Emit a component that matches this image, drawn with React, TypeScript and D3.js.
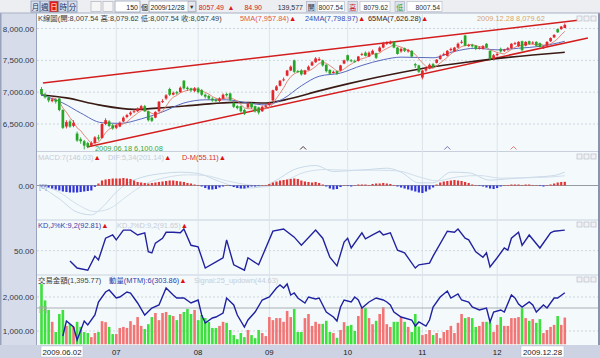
import React from "react";
import * as d3 from "d3";

const FONT = "'Liberation Sans', Arial, 'Noto Sans CJK TC', sans-serif";

const opens = [
  7050, 6960, 6910, 6860, 6880, 6900, 6720, 6460, 6540, 6470, 6350, 6260, 6230, 6200, 6160, 6200, 6290, 6280, 6500, 6540, 6480,
  6440, 6460, 6540, 6610, 6650, 6690, 6700, 6730, 6780, 6700, 6600, 6600, 6700, 6850, 6900, 7050, 6960, 7000, 7000, 7180, 7070, 7060, 7020,
  7060, 7030, 6960, 6940, 6900, 6880, 6860, 6900, 6970, 6980, 6830, 6780, 6780, 6720, 6760, 6830, 6780, 6760, 6700, 6770,
  6800, 6870, 7030, 7100, 7190, 7260, 7340, 7500, 7330, 7340, 7280, 7350, 7420, 7470, 7500, 7500, 7430, 7350, 7300, 7330, 7340, 7450,
  7580, 7500, 7490, 7490, 7590, 7620, 7560, 7600, 7610, 7640, 7700, 7760, 7760, 7790, 7700, 7640, 7690, 7640, 7650, 7440, 7420,
  7230, 7340, 7370, 7440, 7460, 7520, 7590, 7570, 7660, 7640, 7700, 7780, 7890, 7730, 7740, 7730, 7690, 7680, 7760, 7650, 7520,
  7580, 7680, 7650, 7670, 7690, 7760, 7720, 7800, 7730, 7800, 7770, 7790, 7770, 7690, 7730, 7800, 7860, 7990, 7990, 8007.54,
];
const highs = [
  7080, 6990, 6930, 6910, 6900, 6920, 6730, 6560, 6570, 6560, 6380, 6290, 6250, 6220, 6230, 6310, 6330, 6510, 6590, 6560, 6500,
  6500, 6540, 6620, 6660, 6700, 6730, 6760, 6800, 6800, 6710, 6620, 6700, 6860, 6890, 6970, 7070, 7010, 7020, 7090, 7190, 7090, 7070, 7080,
  7080, 7050, 6980, 6960, 6920, 6900, 6920, 6980, 6990, 6990, 6850, 6800, 6790, 6740, 6840, 6840, 6790, 6770, 6790, 6810,
  6850, 7040, 7110, 7190, 7230, 7350, 7420, 7510, 7350, 7360, 7350, 7420, 7490, 7550, 7550, 7510, 7440, 7360, 7340, 7340, 7430, 7510,
  7590, 7520, 7510, 7570, 7620, 7640, 7640, 7670, 7620, 7720, 7790, 7800, 7810, 7800, 7710, 7700, 7700, 7680, 7660, 7460, 7430,
  7350, 7400, 7450, 7460, 7520, 7590, 7620, 7660, 7700, 7710, 7780, 7820, 7900, 7760, 7760, 7740, 7720, 7740, 7770, 7660, 7600,
  7620, 7700, 7680, 7710, 7770, 7790, 7800, 7810, 7800, 7810, 7800, 7800, 7780, 7730, 7800, 7860, 7910, 8000, 8040, 8079.62,
];
const lows = [
  6940, 6900, 6840, 6840, 6820, 6700, 6420, 6430, 6440, 6450, 6220, 6190, 6100.08, 6120, 6140, 6190, 6240, 6270, 6480, 6450, 6410,
  6420, 6450, 6530, 6590, 6630, 6670, 6690, 6720, 6690, 6540, 6530, 6590, 6690, 6830, 6880, 6940, 6950, 6960, 6990, 7040, 7020, 7000, 7000,
  6980, 6940, 6900, 6880, 6850, 6840, 6840, 6890, 6930, 6860, 6750, 6730, 6680, 6640, 6750, 6740, 6680, 6650, 6690, 6760,
  6780, 6860, 7020, 7090, 7170, 7250, 7330, 7300, 7300, 7260, 7270, 7340, 7410, 7460, 7490, 7400, 7310, 7270, 7290, 7270, 7330, 7440,
  7480, 7470, 7460, 7480, 7570, 7560, 7550, 7590, 7520, 7630, 7690, 7740, 7750, 7690, 7590, 7620, 7630, 7620, 7540, 7380, 7300,
  7200, 7320, 7360, 7380, 7450, 7510, 7570, 7560, 7640, 7630, 7690, 7760, 7720, 7710, 7700, 7660, 7670, 7670, 7690, 7500, 7500,
  7560, 7620, 7630, 7650, 7680, 7740, 7710, 7640, 7720, 7740, 7750, 7720, 7700, 7680, 7720, 7790, 7850, 7930, 7980, 8007.54,
];
const closes = [
  6965, 6920, 6870, 6885, 6850, 6720, 6440, 6530, 6460, 6520, 6240, 6230, 6160, 6140, 6200, 6290, 6270, 6500, 6560, 6470, 6430,
  6480, 6520, 6600, 6640, 6680, 6700, 6740, 6780, 6700, 6560, 6550, 6690, 6850, 6860, 6950, 6960, 6990, 6980, 7070, 7060, 7050, 7030, 7060,
  7000, 6960, 6930, 6900, 6870, 6860, 6900, 6960, 6950, 6880, 6770, 6750, 6700, 6660, 6820, 6760, 6700, 6680, 6770, 6790,
  6830, 7030, 7090, 7180, 7200, 7340, 7400, 7320, 7320, 7280, 7340, 7400, 7470, 7530, 7520, 7420, 7330, 7290, 7320, 7290, 7420, 7500,
  7500, 7490, 7480, 7560, 7600, 7570, 7620, 7650, 7540, 7700, 7770, 7770, 7790, 7700, 7600, 7680, 7650, 7660, 7560, 7420, 7320,
  7340, 7380, 7430, 7400, 7510, 7570, 7600, 7650, 7680, 7700, 7760, 7790, 7730, 7740, 7720, 7680, 7700, 7720, 7700, 7520, 7580,
  7600, 7640, 7660, 7690, 7760, 7770, 7790, 7660, 7790, 7760, 7780, 7730, 7710, 7720, 7790, 7850, 7900, 7940, 8030, 8057.49,
];
const volumes = [
  2380, 1900, 1620, 1270, 970, 1500, 1620, 1150, 1200, 1120, 1270, 1120, 970, 940, 820, 940, 970, 1290, 1260, 1120, 910,
  910, 1090, 1120, 1090, 1290, 1180, 1410, 1150, 1060, 1200, 1410, 1530, 1320, 1530, 1560, 1470, 1440, 1320, 1500, 1560, 1650, 1500, 1620,
  1320, 1470, 1380, 1270, 1090, 1090, 1150, 1270, 1240, 1030, 880, 760, 940, 820, 1030, 880, 790, 1030, 940, 850,
  1410, 1320, 1380, 1380, 1270, 1590, 1410, 1650, 970, 970, 1380, 1500, 1150, 1270, 1210, 1210, 1300, 970, 940, 800, 1030, 1260,
  1150, 1180, 1000, 1440, 1680, 1680, 1380, 1200, 1300, 1500, 1700, 1200, 1120, 1270, 1270, 1410, 1270, 1120, 970, 1500, 1130,
  880, 910, 1030, 880, 940, 790, 970, 1030, 1150, 940, 1240, 1500, 1380, 1410, 1380, 1120, 1150, 1270, 1270, 1260, 970,
  1180, 1410, 1150, 1150, 1380, 1380, 1410, 1680, 1380, 1300, 1350, 1240, 1350, 940, 1030, 1120, 1180, 1440, 1180, 1395.77,
];
const macdHist = [
  -15, -15, -30, -45, -60, -75, -90, -98, -105, -105, -105, -98, -90, -83, -75, -20, 30, 75, 90, 98, 105,
  105, 105, 113, 105, 98, 75, 53, 45, 38, 30, 38, 45, 53, 60, 68, 75, 75, 68, 60, 53, 38, 30, 15,
  8, -15, -38, -60, -60, -53, -30, -15, 0, -8, -23, -38, -45, -45, -30, -15, -15, -8, 0, 8,
  23, 45, 60, 75, 83, 90, 98, 105, 98, 75, 60, 53, 45, 53, 38, 15, -15, -45, -60, -53, -23, 0,
  -8, -15, 0, 15, 15, 15, 8, 23, 30, 30, 38, 30, 23, 8, -15, -30, -45, -60, -75, -90, -105,
  -113, -90, -60, -30, 15, 45, 60, 68, 75, 83, 75, 68, 53, 38, 15, 0, -8, -15, -30, -45, -53,
  -38, -15, 0, 8, 15, 15, 15, 8, 15, 15, 8, 0, -8, -15, 0, 15, 30, 45, 53, 55.11,
];
const difPts: [number, number][] = [
  [0, -20], [5, -200], [10, -400], [14, -440], [17, -330], [21, -100], [24, 30], [28, 120], [34, 180], [39, 200],
  [44, 180], [50, 60], [57, -40], [62, -20], [66, 80], [71, 240], [77, 300], [82, 210], [86, 220], [92, 240],
  [97, 260], [101, 200], [106, 40], [110, 40], [115, 200], [120, 190], [126, 80], [131, 100], [138, 125], [144, 150], [147, 201.14],
];
const macdPts: [number, number][] = [
  [0, 0], [5, -100], [10, -280], [15, -390], [19, -350], [24, -160], [29, 20], [35, 120], [41, 160], [46, 150],
  [52, 70], [58, 10], [63, -20], [68, 60], [74, 200], [80, 240], [86, 230], [93, 230], [100, 220], [106, 130],
  [111, 70], [117, 130], [123, 150], [129, 110], [136, 115], [142, 125], [147, 146.03],
];
const kdPts: [number, number][] = [
  [8, 31], [10, 18], [13, 14], [15, 40], [16, 33], [18, 73], [20, 79], [21, 70], [23, 88], [25, 88], [27, 79], [29, 83],
  [30, 48], [31, 46], [32, 64], [34, 73], [35, 84], [37, 84], [39, 83], [40, 90], [42, 60], [44, 57], [46, 18], [50, 33],
  [51, 37], [52, 70], [54, 24], [57, 14], [58, 37], [61, 24], [65, 86], [68, 90], [71, 75], [73, 60], [77, 88], [79, 73],
  [81, 38], [83, 22], [85, 66], [86, 73], [87, 55], [90, 83], [91, 72], [93, 79], [95, 86], [96, 79], [98, 83], [100, 51],
  [102, 46], [105, 18], [106, 24], [109, 27], [110, 40], [114, 86], [116, 84], [117, 90], [119, 73], [120, 70], [122, 48],
  [124, 38], [125, 46], [126, 20], [128, 37], [130, 55], [131, 51], [132, 73], [134, 84], [135, 60], [137, 79], [140, 55],
  [143, 83], [144, 86], [147, 88],
];
const mtmPts: [number, number][] = [
  [6, -560], [7, -260], [9, -380], [10, -640], [12, -260], [13, -340], [15, -140], [16, 120], [18, 320], [19, 360],
  [21, 200], [22, 220], [24, 320], [25, 300], [27, 100], [29, -140], [31, 0], [33, 60], [35, 400], [37, 260], [38, 200],
  [40, 200], [42, 100], [44, 160], [45, -140], [46, -300], [48, -200], [49, -180], [51, -100], [52, 200], [54, 60],
  [55, -140], [57, -380], [58, -240], [60, -80], [62, 160], [64, 220], [66, 400], [67, 460], [68, 400], [69, 480],
  [70, 260], [71, 300], [72, 200], [74, 100], [75, 220], [77, 180], [78, 200], [80, -80], [82, -180], [83, -260],
  [84, 20], [85, 160], [87, 120], [88, 220], [89, 160], [90, 0], [92, 120], [94, 200], [96, 160], [97, 120], [98, 60],
  [99, -80], [101, -180], [104, -240], [105, -360], [106, -280], [108, -360], [109, -240], [110, 20], [112, 220],
  [114, 340], [115, 200], [117, 280], [118, 160], [120, 120], [121, 20], [123, -40], [125, 0], [126, -280], [127, -80],
  [129, -40], [130, -80], [132, 260], [133, 200], [134, 80], [135, 20], [137, 120], [138, 60], [139, -80], [141, 60],
  [142, 0], [144, 200], [145, 200], [147, 303.86],
];
const ma24Pts: [number, number][] = [
  [0, 6956], [6, 6830], [11, 6673], [17, 6520], [22, 6510], [28, 6580], [34, 6690], [40, 6830], [46, 6880], [52, 6880],
  [58, 6830], [63, 6800], [68, 6900], [73, 7100], [78, 7250], [84, 7300], [90, 7420], [96, 7510], [101, 7550], [106, 7545],
  [110, 7540], [116, 7640], [122, 7690], [128, 7665], [134, 7690], [140, 7720], [147, 7798.97],
];
const ma65Pts: [number, number][] = [
  [0, 6956], [7, 6910], [16, 6800], [26, 6730], [35, 6760], [44, 6800], [54, 6840], [63, 6830], [70, 6900], [78, 7020],
  [86, 7130], [94, 7230], [101, 7310], [110, 7400], [120, 7475], [129, 7535], [138, 7585], [147, 7626.28],
];
const upperChannel: [number, number][] = [[0.4, 7144], [151.3, 8133]];
const lowerChannel: [number, number][] = [[12.8, 6139], [153.5, 7851]];
const priceTicks = [8000, 7500, 7000, 6500];
const volTicks = [2000, 1000];
const kdTicks = [50];
const monthIdx = [21, 44, 64, 86, 107, 128];
const monthLabels = ["07", "08", "09", "10", "11", "12"];
const eventIdx = [73.5, 114, 132.6];
const eventColors = ["#402020", "#6068b8", "#e07070"];
const periods = ["月", "週", "日", "時", "分"];

const PL = 37;
const PR = 598;
const fmt2 = d3.format(",.2f");

export default function App() {
  const x = d3.scaleLinear().domain([0, 147]).range([41.5, 564.8]);
  const yP = d3.scaleLinear().domain([6500, 8000]).range([124, 28.5]);
  const yM = d3.scaleLinear().domain([0, 300]).range([185.5, 165.5]);
  const yK = d3.scaleLinear().domain([0, 100]).range([277.8, 223.6]);
  const yV = d3.scaleLinear().domain([1000, 2000]).range([331, 297]);
  const yT = d3.scaleLinear().domain([0, 300]).range([308, 293]);

  const ma5: [number, number][] = closes.map((_, i) => {
    const s = closes.slice(Math.max(0, i - 4), i + 1);
    return [i, d3.mean(s) as number];
  });

  const lineP = d3.line<[number, number]>().x((d) => x(d[0])).y((d) => yP(d[1]));
  const lineSmooth = d3.line<[number, number]>().x((d) => x(d[0])).y((d) => yP(d[1])).curve(d3.curveMonotoneX);
  const lineM = d3.line<[number, number]>().x((d) => x(d[0])).y((d) => yM(d[1])).curve(d3.curveMonotoneX);
  const lineK = d3.line<[number, number]>().x((d) => x(d[0])).y((d) => yK(d[1]));
  const lineT = d3.line<[number, number]>().x((d) => x(d[0])).y((d) => yT(d[1]));

  const up = (i: number) => closes[i] >= opens[i];
  const RED = "#e4262c";
  const GREEN = "#27a527";
  const faint = "#c5ccd8";
  const TRI = "#e01010";
  const LF = 7.4;
  const icons = (y: number) =>
    [577, 584, 591].map((ix) => (
      <rect key={ix + "-" + y} x={ix} y={y} width={5} height={5} fill="#f2f2f4" stroke="#b8bcc8" strokeWidth={0.7} />
    ));

  return (
    <svg width={600} height={358} style={{ position: "absolute", left: 0, top: 0, display: "block" }} fontFamily={FONT}>
      <defs>
        <clipPath id="cp"><rect x={PL} y={13.5} width={PR - PL} height={138} /></clipPath>
        <clipPath id="cm"><rect x={PL} y={152} width={PR - PL} height={67.5} /></clipPath>
        <clipPath id="ck"><rect x={PL} y={220.5} width={PR - PL} height={54} /></clipPath>
        <clipPath id="cv"><rect x={PL} y={275.5} width={PR - PL} height={69} /></clipPath>
      </defs>
      {/* backgrounds */}
      <rect x={0} y={0} width={600} height={358} fill="#f4fafc" />
      <rect x={0} y={13} width={PL} height={332} fill="#d7dcea" />
      <rect x={0} y={13} width={1.5} height={345} fill="#9aa2bc" />
      <line x1={PL - 0.5} x2={PL - 0.5} y1={13} y2={345} stroke="#9aa3bd" />
      <rect x={PR} y={13} width={2} height={345} fill="#8a93ad" />
      <rect x={0} y={345} width={600} height={13} fill="#cdd3e3" />

      {/* toolbar */}
      <rect x={0} y={0} width={600} height={13} fill="#eceef2" />
      <line x1={0} x2={600} y1={13} y2={13} stroke="#a9b1c4" />
      {periods.map((p, k) => (
        <g key={p}>
          <rect x={31 + k * 9.3} y={1} width={8.8} height={11} fill={p === "日" ? "#e01c1c" : "#d8e0ee"} stroke="#7d8aa8" strokeWidth={0.7} />
          <text x={35.4 + k * 9.3} y={9.8} fontSize={7.5} textAnchor="middle" fill={p === "日" ? "#ffffff" : "#1c2c60"}>{p}</text>
        </g>
      ))}
      <rect x={91} y={1.5} width={10} height={10} fill="#f6f6f6" stroke="#b0b4be" strokeWidth={0.7} />
      <rect x={103} y={1.5} width={10} height={10} fill="#f6f6f6" stroke="#b0b4be" strokeWidth={0.7} />
      <rect x={115} y={1} width={25} height={11} fill="#ffffff" stroke="#8a96ae" strokeWidth={0.7} />
      <text x={138} y={9.6} fontSize={7} textAnchor="end" fill="#202020">150</text>
      <text x={141} y={9.8} fontSize={7} fill="#202020">個</text>
      <rect x={149} y={1} width={47} height={11} fill="#ffffff" stroke="#8a96ae" strokeWidth={0.7} />
      <text x={150.5} y={9.6} fontSize={6.8} fill="#202020">2009/12/28</text>
      <rect x={188} y={1.5} width={7.5} height={10} fill="#e6e8ee" stroke="#a0a6b6" strokeWidth={0.6} />
      <text x={191.8} y={9.3} fontSize={5.5} textAnchor="middle" fill="#303030">▼</text>
      <text x={224} y={9.6} fontSize={7} textAnchor="end" fill="#d42020">8057.49</text>
      <text x={231} y={9.6} fontSize={7} textAnchor="middle" fill="#d42020">▲</text>
      <text x={262} y={9.6} fontSize={7} textAnchor="end" fill="#d42020">84.90</text>
      <text x={303} y={9.6} fontSize={7} textAnchor="end" fill="#303030">139,577</text>
      <rect x={306.5} y={1.5} width={9.5} height={10} fill="#dde2ec" stroke="#a0a8bc" strokeWidth={0.6} />
      <text x={311.2} y={9.6} fontSize={7} textAnchor="middle" fill="#303030">開</text>
      <rect x={317.5} y={1.5} width={27} height={10} fill="#ffffff" stroke="#b0b6c4" strokeWidth={0.6} />
      <text x={343} y={9.6} fontSize={6.8} textAnchor="end" fill="#303030">8007.54</text>
      <rect x={348} y={1.5} width={9.5} height={10} fill="#dde2ec" stroke="#a0a8bc" strokeWidth={0.6} />
      <text x={352.7} y={9.6} fontSize={7} textAnchor="middle" fill="#d42020">高</text>
      <rect x={360} y={1.5} width={30} height={10} fill="#ffffff" stroke="#b0b6c4" strokeWidth={0.6} />
      <text x={388} y={9.6} fontSize={6.8} textAnchor="end" fill="#303030">8079.62</text>
      <rect x={395} y={1.5} width={9.5} height={10} fill="#dde2ec" stroke="#a0a8bc" strokeWidth={0.6} />
      <text x={399.7} y={9.6} fontSize={7} textAnchor="middle" fill="#22a022">低</text>
      <rect x={407} y={1.5} width={35} height={10} fill="#ffffff" stroke="#b0b6c4" strokeWidth={0.6} />
      <text x={440} y={9.6} fontSize={6.8} textAnchor="end" fill="#303030">8007.54</text>

      {/* panel separators */}
      {[151.5, 220, 275].map((y) => (
        <line key={y} x1={PL} x2={PR} y1={y} y2={y} stroke="#c9d0dc" />
      ))}
      {/* month gridlines */}
      {monthIdx.map((m) => (
        <line key={m} x1={x(m)} x2={x(m)} y1={13.5} y2={345} stroke="#dce3ea" />
      ))}
      {/* horizontal dashed grids */}
      {priceTicks.map((t) => (
        <line key={"p" + t} x1={PL} x2={PR} y1={yP(t)} y2={yP(t)} stroke="#cdd5de" strokeDasharray="2,2" />
      ))}
      {kdTicks.map((t) => (
        <line key={"k" + t} x1={PL} x2={PR} y1={yK(t)} y2={yK(t)} stroke="#cdd5de" strokeDasharray="2,2" />
      ))}
      {volTicks.map((t) => (
        <line key={"v" + t} x1={PL} x2={PR} y1={yV(t)} y2={yV(t)} stroke="#cdd5de" strokeDasharray="2,2" />
      ))}

      {/* axis labels */}
      {priceTicks.map((t) => (
        <text key={"pl" + t} x={34} y={yP(t) + 3} fontSize={8} textAnchor="end" fill="#303848">{fmt2(t)}</text>
      ))}
      <text x={34} y={yM(0) + 3} fontSize={8} textAnchor="end" fill="#303848">0.00</text>
      {kdTicks.map((t) => (
        <text key={"kl" + t} x={34} y={yK(t) + 3} fontSize={8} textAnchor="end" fill="#303848">{fmt2(t)}</text>
      ))}
      {volTicks.map((t) => (
        <text key={"vl" + t} x={34} y={yV(t) + 3} fontSize={8} textAnchor="end" fill="#303848">{fmt2(t)}</text>
      ))}

      {/* price panel */}
      <g clipPath="url(#cp)">
        {[upperChannel, lowerChannel].map((c, k) => (
          <path key={k} d={lineP(c) as string} stroke="#d41e1e" strokeWidth={1.5} fill="none" />
        ))}
        <path d={lineSmooth(ma65Pts) as string} stroke="#3a1a14" strokeWidth={1.6} fill="none" />
        <path d={lineSmooth(ma24Pts) as string} stroke="#5a68bc" strokeWidth={1} fill="none" />
        <path d={lineP(ma5.slice(3)) as string} stroke="#e47a6a" strokeWidth={0.9} fill="none" />
        {closes.map((c, i) => {
          const o = opens[i];
          const col = up(i) ? RED : GREEN;
          const top = yP(Math.max(o, c));
          const h = Math.max(0.9, Math.abs(yP(o) - yP(c)));
          return (
            <g key={i}>
              <line x1={x(i)} x2={x(i)} y1={yP(highs[i])} y2={yP(lows[i])} stroke={col} strokeWidth={0.9} />
              <rect x={x(i) - 1.35} y={top} width={2.7} height={h} fill={col} />
            </g>
          );
        })}
        {eventIdx.map((e, k) => (
          <path key={k} d={`M${x(e) - 3},${149.5}L${x(e)},${146.5}L${x(e) + 3},${149.5}`} stroke={eventColors[k]} fill="none" strokeWidth={0.9} />
        ))}
      </g>
      <text x={95} y={151} fontSize={LF} fill="#3aa83a">2009.06.18  6,100.08</text>
      <text x={38} y={21} fontSize={LF} fill="#3c3c3c">K線圖(開:8,007.54 高:8,079.62 低:8,007.54 收:8,057.49)</text>
      <text x={240} y={21} fontSize={LF}>
        <tspan fill="#e05848">5MA(7,957.84)</tspan>
        <tspan fill={TRI}>▲</tspan>
      </text>
      <text x={305} y={21} fontSize={LF}>
        <tspan fill="#3848b0">24MA(7,798.97)</tspan>
        <tspan fill={TRI}>▲</tspan>
      </text>
      <text x={368} y={21} fontSize={LF}>
        <tspan fill="#401c14">65MA(7,626.28)</tspan>
        <tspan fill={TRI}>▲</tspan>
      </text>
      <text x={477} y={21} fontSize={LF} fill="#d8a466">2009.12.28  8,079.62</text>
      {icons(16)}

      {/* MACD panel */}
      <g clipPath="url(#cm)">
        <path d={lineM(difPts) as string} stroke="#c8d8e8" strokeWidth={1} fill="none" />
        <path d={lineM(macdPts) as string} stroke="#d2deea" strokeWidth={1} fill="none" />
        <line x1={PL} x2={PR} y1={yM(0)} y2={yM(0)} stroke="#8a8e98" strokeWidth={0.9} />
        {macdHist.map((v, i) => {
          const y0 = yM(0);
          const y1 = yM(v);
          return (
            <rect key={i} x={x(i) - 1.1} y={Math.min(y0, y1)} width={2.2} height={Math.max(0.5, Math.abs(y1 - y0))} fill={v >= 0 ? "#e33434" : "#3236d8"} />
          );
        })}
      </g>
      <text x={39} y={yM(0) + 3} fontSize={7.2} fill="#a0a4b0">[0]</text>
      <text x={38} y={160} fontSize={LF}>
        <tspan fill={faint}>MACD:7(146.03)</tspan>
        <tspan fill={TRI}>▲</tspan>
      </text>
      <text x={108} y={160} fontSize={LF}>
        <tspan fill={faint}>DIF:5,34(201.14)</tspan>
        <tspan fill={TRI}>▲</tspan>
      </text>
      <text x={182} y={160} fontSize={LF}>
        <tspan fill="#d83030">D-M(55.11)</tspan>
        <tspan fill={TRI}>▲</tspan>
      </text>
      {icons(154)}

      {/* KD panel */}
      <g clipPath="url(#ck)">
        <path d={lineK(kdPts) as string} stroke="#22229e" strokeWidth={1.4} fill="none" />
      </g>
      <text x={38} y={228} fontSize={LF}>
        <tspan fill="#3a3aa8">KD,J%K:9,2(92.81)</tspan>
        <tspan fill={TRI}>▲</tspan>
      </text>
      <text x={117} y={228} fontSize={LF}>
        <tspan fill={faint}>KD,J%D:9,2(91.65)</tspan>
        <tspan fill={TRI}>▲</tspan>
      </text>
      {icons(222)}

      {/* volume panel */}
      <g clipPath="url(#cv)">
        {volumes.map((v, i) => (
          <rect key={i} x={x(i) - 1.3} y={yV(v)} width={2.6} height={344.5 - yV(v)} fill={up(i) ? "#f27474" : "#3ee03e"} />
        ))}
        <line x1={PL} x2={PR} y1={yT(0)} y2={yT(0)} stroke="#a2a6ae" strokeWidth={0.9} />
        <path d={lineT(mtmPts) as string} stroke="#1e22a0" strokeWidth={1.4} fill="none" />
      </g>
      <text x={39} y={yT(0) + 3} fontSize={7.2} fill="#a0a4b0">[0]</text>
      <text x={38} y={283} fontSize={LF} fill="#404040">交易金額(1,395.77)</text>
      <text x={109} y={283} fontSize={LF}>
        <tspan fill="#3040a8">動量(MTM):6(303.86)</tspan>
        <tspan fill={TRI}>▲</tspan>
      </text>
      <text x={194} y={283} fontSize={LF} fill={faint}>Signal:25_updown(44.63)</text>
      {icons(277)}

      {/* date axis */}
      <rect x={41} y={346} width={42} height={11} fill="#ffffff" stroke="#b8bece" strokeWidth={0.5} />
      <text x={62} y={355} fontSize={7.8} textAnchor="middle" fill="#202020">2009.06.02</text>
      {monthIdx.map((m, k) => (
        <text key={m} x={x(m)} y={355} fontSize={7.8} textAnchor="middle" fill="#202020">{monthLabels[k]}</text>
      ))}
      <rect x={521} y={346} width={43} height={11} fill="#ffffff" stroke="#b8bece" strokeWidth={0.5} />
      <text x={542.5} y={355} fontSize={7.8} textAnchor="middle" fill="#202020">2009.12.28</text>
    </svg>
  );
}
